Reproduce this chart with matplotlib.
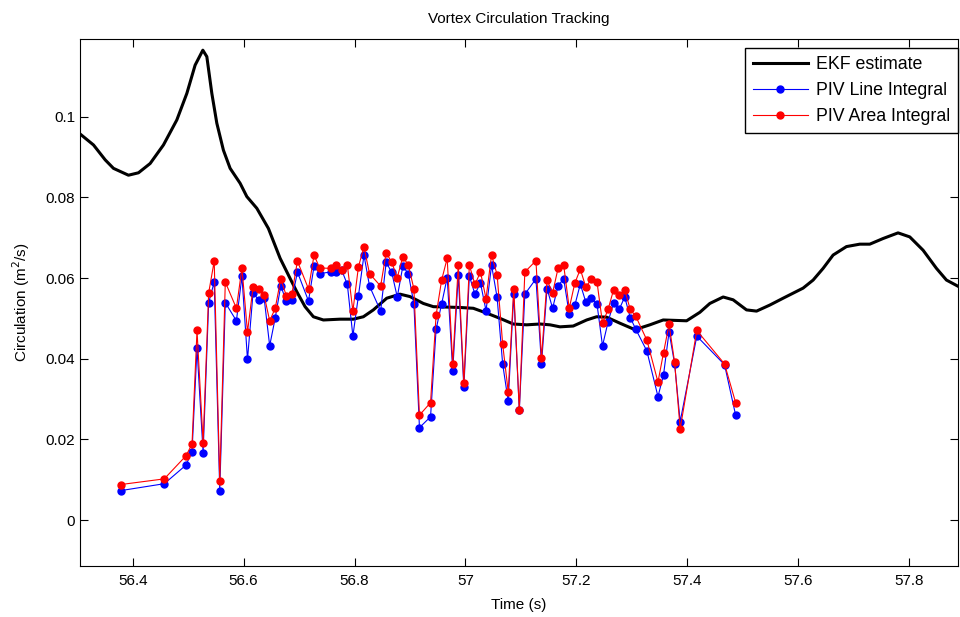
import matplotlib
matplotlib.use('Agg')
from matplotlib import pyplot as plt
from matplotlib.ticker import FormatStrFormatter

plt.rcParams['font.family'] = ['Liberation Sans', 'DejaVu Sans']

# EKF estimate (time in s, circulation in m^2/s)
ekf_time = [56.3054, 56.3294, 56.3505, 56.3654, 56.3924, 56.4105, 56.4315, 56.4555,
            56.4796, 56.4977, 56.5126, 56.5265, 56.5337, 56.5427, 56.5517, 56.5636,
            56.5757, 56.5937, 56.6058, 56.6238, 56.6447, 56.6658, 56.6838, 56.6959,
            56.7108, 56.7258, 56.7438, 56.7739, 56.7978, 56.8159, 56.8339, 56.8580,
            56.8820, 56.9000, 56.9240, 56.9420, 56.9901, 57.0141, 57.0382, 57.0622,
            57.0861, 57.1103, 57.1342, 57.1523, 57.1703, 57.1942, 57.2184, 57.2364,
            57.2544, 57.2784, 57.3054, 57.3324, 57.3564, 57.3986, 57.4225, 57.4405,
            57.4645, 57.4825, 57.5066, 57.5247, 57.5486, 57.5726, 57.6086, 57.6267,
            57.6447, 57.6627, 57.6868, 57.7108, 57.7288, 57.7528, 57.7798, 57.8009,
            57.8249, 57.8490, 57.8670, 57.8874]
ekf_circ = [0.0957, 0.0930, 0.0893, 0.0872, 0.0855, 0.0861, 0.0884, 0.0930,
            0.0992, 0.1058, 0.1128, 0.1165, 0.1149, 0.1058, 0.0984, 0.0917,
            0.0872, 0.0835, 0.0802, 0.0773, 0.0723, 0.0649, 0.0599, 0.0566,
            0.0529, 0.0504, 0.0496, 0.0498, 0.0498, 0.0504, 0.0521, 0.0550,
            0.0560, 0.0554, 0.0537, 0.0529, 0.0527, 0.0525, 0.0513, 0.0500,
            0.0486, 0.0484, 0.0486, 0.0484, 0.0479, 0.0481, 0.0496, 0.0504,
            0.0503, 0.0488, 0.0472, 0.0484, 0.0496, 0.0494, 0.0515, 0.0537,
            0.0553, 0.0546, 0.0521, 0.0518, 0.0533, 0.0550, 0.0575, 0.0595,
            0.0624, 0.0657, 0.0678, 0.0684, 0.0684, 0.0698, 0.0712, 0.0702,
            0.0669, 0.0624, 0.0595, 0.0580]

# PIV measurements
piv_time = [56.379, 56.457, 56.496, 56.507, 56.516, 56.527, 56.537, 56.547, 56.557, 56.567,
            56.587, 56.597, 56.607, 56.617, 56.627, 56.637, 56.647, 56.657, 56.667, 56.677,
            56.687, 56.697, 56.717, 56.727, 56.737, 56.757, 56.767, 56.777, 56.787, 56.797,
            56.807, 56.817, 56.827, 56.847, 56.857, 56.867, 56.877, 56.887, 56.897, 56.907,
            56.917, 56.937, 56.947, 56.957, 56.967, 56.977, 56.987, 56.997, 57.007, 57.017,
            57.027, 57.037, 57.047, 57.057, 57.067, 57.077, 57.087, 57.097, 57.107, 57.127,
            57.137, 57.147, 57.157, 57.167, 57.177, 57.187, 57.197, 57.207, 57.217, 57.227,
            57.237, 57.247, 57.257, 57.267, 57.277, 57.287, 57.297, 57.307, 57.327, 57.347,
            57.357, 57.367, 57.377, 57.387, 57.417, 57.467, 57.487]
line_integral = [0.0073, 0.0090, 0.0136, 0.0169, 0.0426, 0.0167, 0.0539, 0.0590, 0.0073, 0.0539,
                 0.0494, 0.0604, 0.0398, 0.0563, 0.0546, 0.0550, 0.0432, 0.0501, 0.0581, 0.0542,
                 0.0546, 0.0615, 0.0543, 0.0630, 0.0611, 0.0615, 0.0615, 0.0619, 0.0584, 0.0456,
                 0.0556, 0.0657, 0.0580, 0.0518, 0.0639, 0.0614, 0.0553, 0.0629, 0.0611, 0.0536,
                 0.0229, 0.0256, 0.0473, 0.0536, 0.0601, 0.0370, 0.0608, 0.0329, 0.0605, 0.0560,
                 0.0588, 0.0519, 0.0632, 0.0552, 0.0387, 0.0295, 0.0560, 0.0272, 0.0560, 0.0598,
                 0.0387, 0.0574, 0.0525, 0.0581, 0.0598, 0.0511, 0.0532, 0.0585, 0.0540, 0.0550,
                 0.0536, 0.0432, 0.0491, 0.0539, 0.0522, 0.0553, 0.0502, 0.0473, 0.0419, 0.0306,
                 0.0360, 0.0467, 0.0387, 0.0244, 0.0456, 0.0385, 0.0260]
area_integral = [0.0088, 0.0102, 0.0159, 0.0188, 0.0470, 0.0191, 0.0563, 0.0642, 0.0097, 0.0590,
                 0.0525, 0.0625, 0.0466, 0.0577, 0.0573, 0.0557, 0.0494, 0.0525, 0.0598, 0.0556,
                 0.0560, 0.0642, 0.0573, 0.0657, 0.0625, 0.0624, 0.0632, 0.0620, 0.0632, 0.0518,
                 0.0628, 0.0677, 0.0611, 0.0580, 0.0663, 0.0639, 0.0601, 0.0653, 0.0632, 0.0573,
                 0.0260, 0.0291, 0.0508, 0.0595, 0.0649, 0.0387, 0.0632, 0.0339, 0.0632, 0.0584,
                 0.0615, 0.0549, 0.0657, 0.0608, 0.0436, 0.0318, 0.0574, 0.0273, 0.0615, 0.0643,
                 0.0401, 0.0595, 0.0563, 0.0625, 0.0632, 0.0525, 0.0587, 0.0622, 0.0577, 0.0598,
                 0.0591, 0.0488, 0.0522, 0.0571, 0.0557, 0.0571, 0.0522, 0.0505, 0.0446, 0.0342,
                 0.0415, 0.0485, 0.0391, 0.0226, 0.0470, 0.0387, 0.0291]

fig = plt.figure(figsize=(9.6, 6.17), dpi=100)
ax = fig.add_axes([0.0833, 0.0827, 0.9147, 0.8536])

ax.plot(ekf_time, ekf_circ, color='black', linewidth=2.2, label='EKF estimate')
ax.plot(piv_time, line_integral, color='blue', linewidth=0.8, marker='o',
        markersize=5, label='PIV Line Integral')
ax.plot(piv_time, area_integral, color='red', linewidth=0.8, marker='o',
        markersize=5, label='PIV Area Integral')

ax.set_xlim(56.305, 57.888)
ax.set_ylim(-0.0114, 0.1192)
ax.set_xticks([56.4, 56.6, 56.8, 57.0, 57.2, 57.4, 57.6, 57.8])
ax.set_yticks([0, 0.02, 0.04, 0.06, 0.08, 0.1])
ax.xaxis.set_major_formatter(FormatStrFormatter('%g'))
ax.yaxis.set_major_formatter(FormatStrFormatter('%g'))
ax.tick_params(direction='in', length=6, top=True, right=True, labelsize=11)
ax.tick_params(axis='x', pad=6)

ax.set_title('Vortex Circulation Tracking', fontsize=11, pad=12)
ax.set_xlabel('Time (s)', fontsize=11, labelpad=7)
ax.set_ylabel('Circulation (m$^2$/s)', fontsize=11, labelpad=10)

# legend box sits just inside the top right corner, as in the MATLAB figure
leg = ax.legend(loc='upper right', bbox_to_anchor=(958 / 960, 1 - 48.3 / 617),
                bbox_transform=fig.transFigure, borderaxespad=0,
                fontsize=12.8, fancybox=False, framealpha=1, edgecolor='black',
                handlelength=3.1, handletextpad=0.45, labelspacing=0.5,
                borderpad=0.45)
leg.get_frame().set_linewidth(1.0)

plt.savefig('out.png')
